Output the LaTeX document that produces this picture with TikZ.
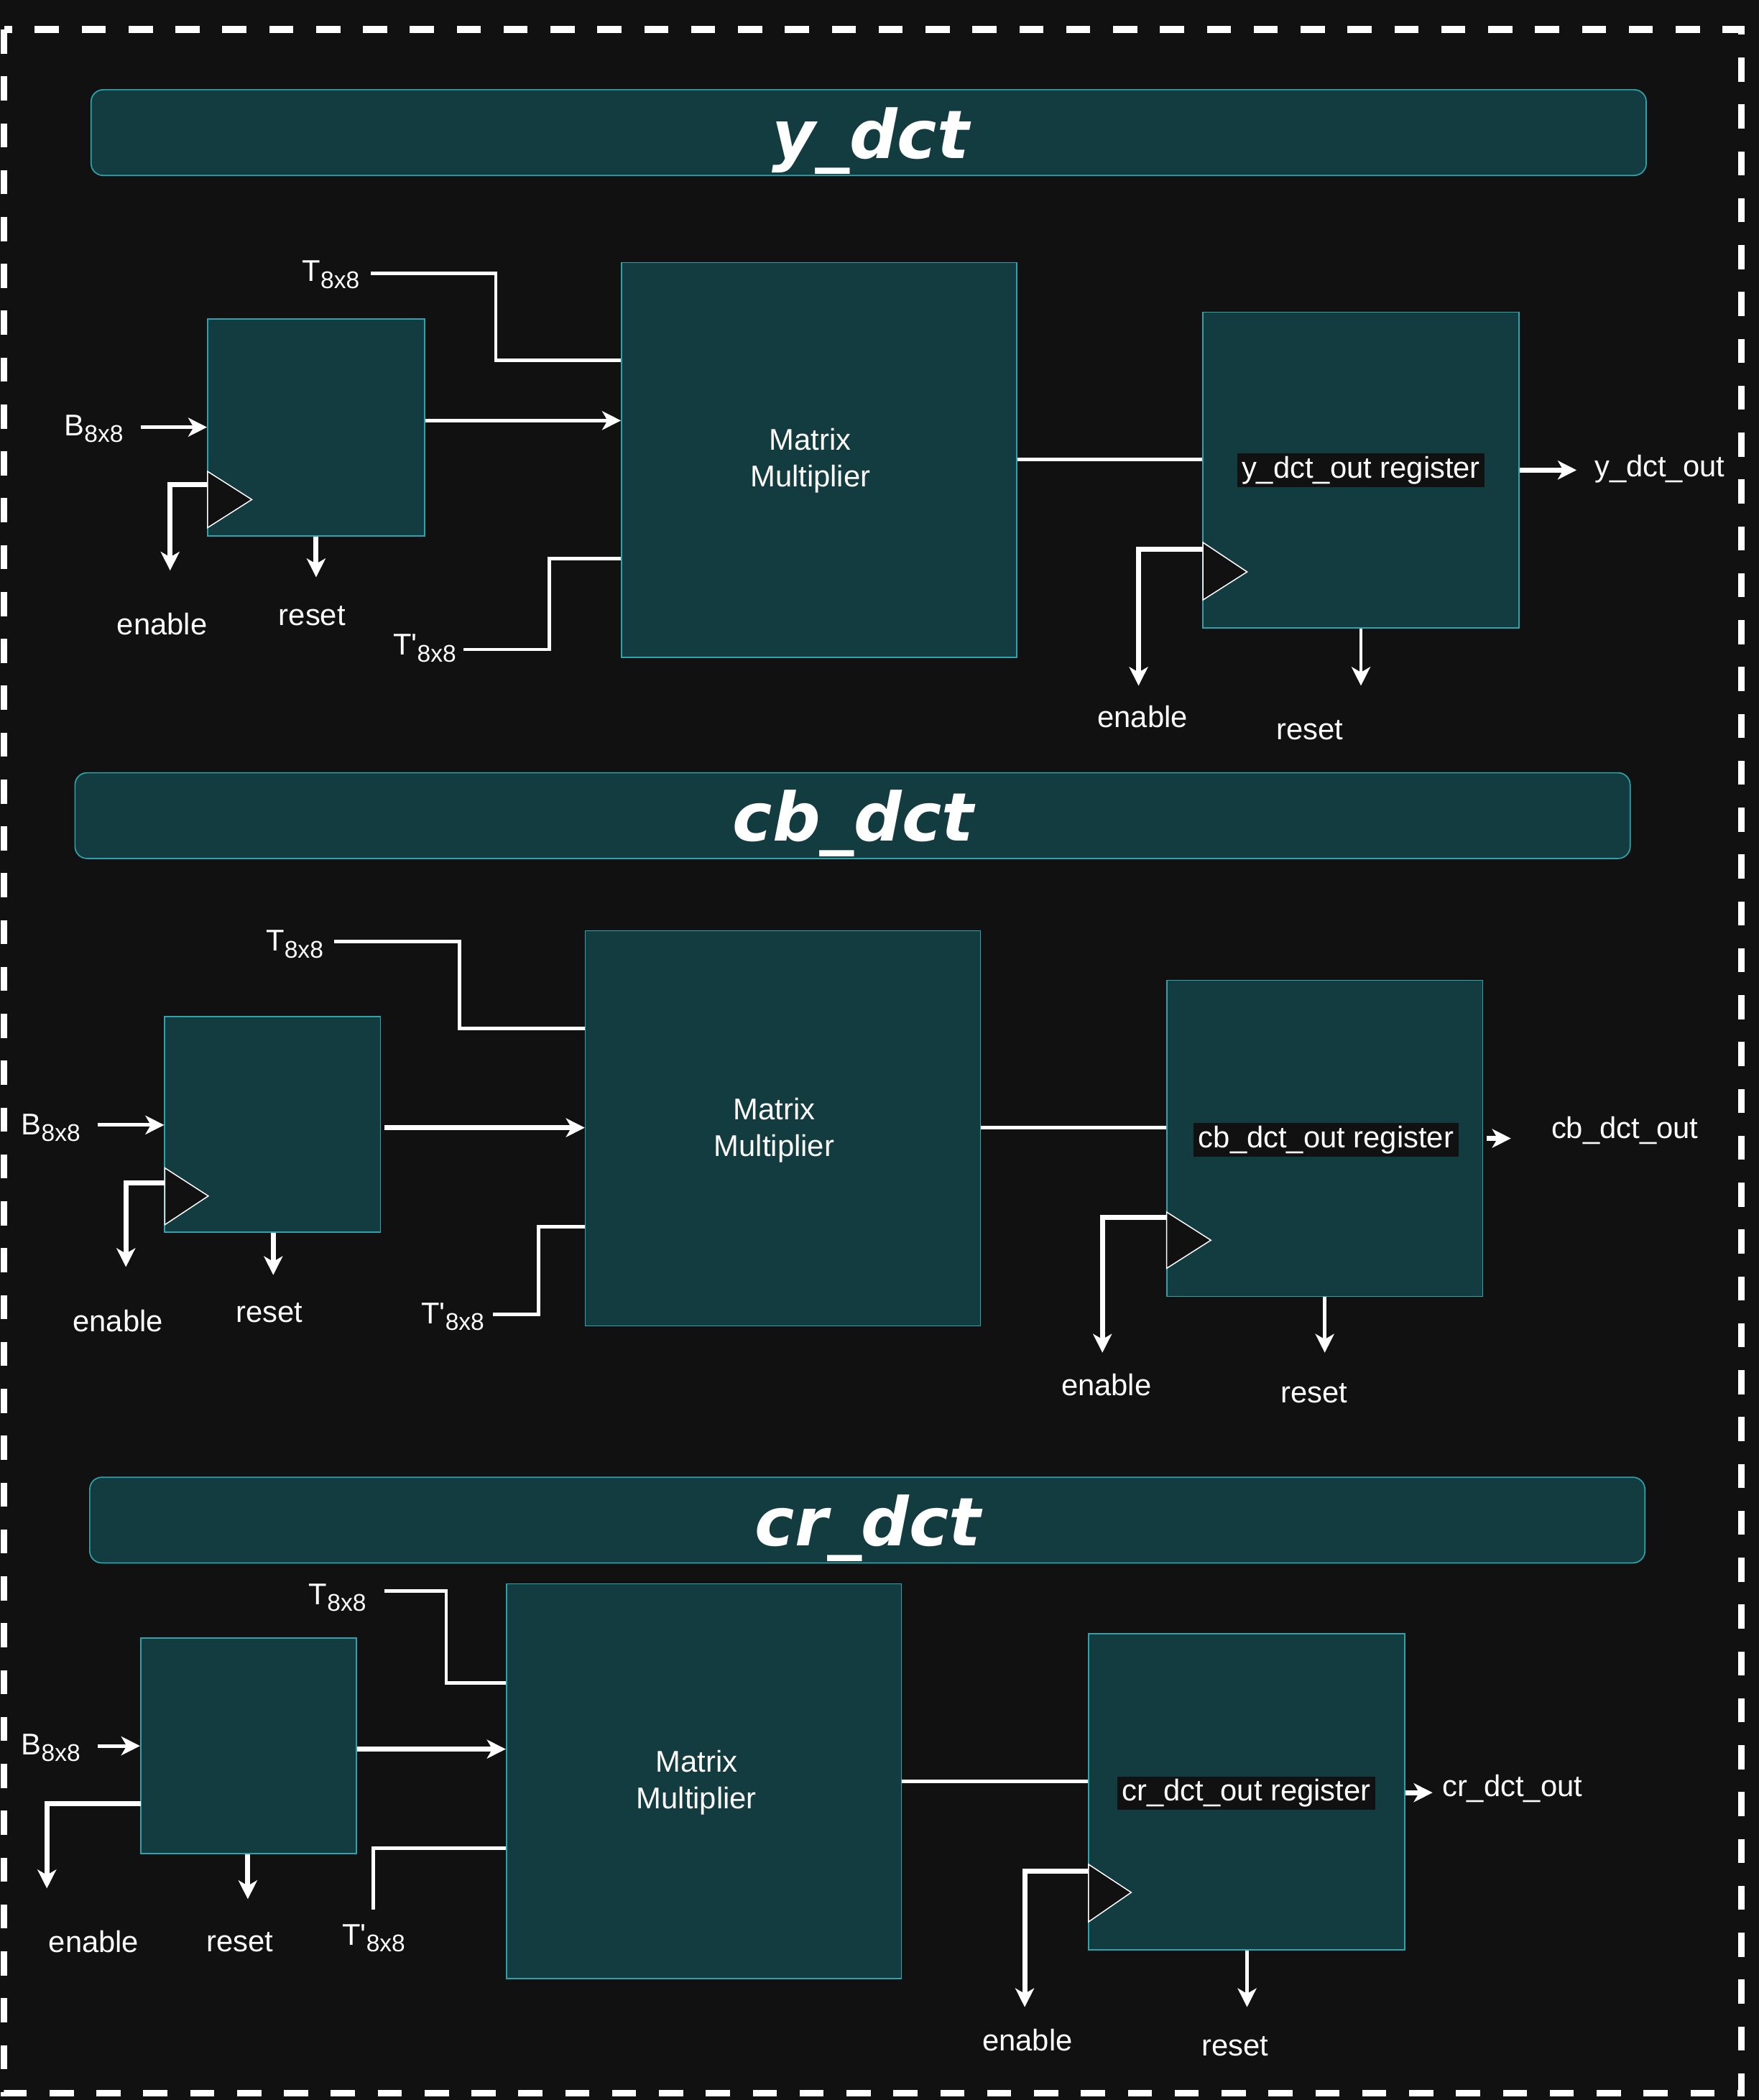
\documentclass[tikz,border=0pt]{standalone}
\usepackage{fontspec}
\setmainfont{Liberation Sans}
\newfontfamily\lf{Liberation Sans}
\newfontfamily\ttlfont{DejaVu Sans}
\usetikzlibrary{arrows.meta}
\definecolor{bgc}{HTML}{111111}
\definecolor{boxfill}{HTML}{133C41}
\definecolor{boxline}{HTML}{2FA3AB}
\newcommand\lbf{\lf\fontsize{22.4}{27}\selectfont}
\newcommand\subt[1]{\raisebox{-5pt}{\fontsize{18}{20}\selectfont #1}}
\begin{document}
\begin{tikzpicture}[x=1pt,y=-1pt,
  blk/.style={draw=boxline, line width=0.9pt, fill=boxfill, inner sep=0pt},
  tbar/.style={blk, rounded corners=9pt, minimum width=1161pt, minimum height=64pt},
  ttl/.style={text=white, inner sep=0pt, font=\ttlfont\bfseries\itshape\fontsize{50}{56}\selectfont},
  lbl/.style={text=white, font=\lbf, inner sep=0pt},
  tag/.style={fill=bgc, text=white, font=\lbf, inner xsep=3.5pt, inner ysep=2pt},
  wire/.style={draw=white, line width=2.7pt},
  thk/.style={line width=3.8pt},
  thn/.style={line width=2.4pt},
  arr/.style={wire, -{Stealth[length=14pt,width=14pt,inset=4pt]}},
  clk/.style={fill=bgc, draw=white, line width=0.8pt}]

\useasboundingbox (0,0) rectangle (1313,1568);
\fill[bgc] (0,0) rectangle (1313,1568);
\draw[white, line width=5pt, dash pattern=on 18pt off 17pt] (3,22) rectangle (1300,1563);

% ================= y_dct =================
\node[tbar] (tb1) at (648.5,99) {};
\node[ttl] (tt1) at (650,105) {y\_dct};
\node[blk, minimum width=162pt, minimum height=162pt] (R1) at (236,319) {};
\node[blk, minimum width=295pt, minimum height=295pt] (M1) at (611.5,343.5) {};
\node[lbl, align=center] (M1t) at (605,344) {Matrix\\Multiplier};
\node[blk, minimum width=236pt, minimum height=236pt] (O1) at (1016,351) {};
\node[tag] (tag1) at (1016,351) {y\_dct\_out register};
\filldraw[clk] (155,352) -- (188,373) -- (155,394) -- cycle;
\filldraw[clk] (898,405) -- (931,427) -- (898,448) -- cycle;

\node[lbl] (B1) at (70,320) {B\subt{8x8}};
\node[lbl] (T1) at (247,205) {T\subt{8x8}};
\node[lbl] (Tp1) at (317,484) {T'\subt{8x8}};
\node[lbl] (en1) at (121,466) {enable};
\node[lbl] (rs1) at (233,460) {reset};
\node[lbl] (en1b) at (853,535) {enable};
\node[lbl] (rs1b) at (978,545) {reset};
\node[lbl] (out1) at (1239,350) {y\_dct\_out};

\coordinate (b1s) at (105,319);
\coordinate (t1s) at (277,204);
\coordinate (tp1s) at (346,485);
\coordinate (e1s) at (155,362);
\coordinate (e1e) at (127,426);
\coordinate (r1e) at (236,431);
\coordinate (e1bs) at (898,410);
\coordinate (e1be) at (850,512);
\coordinate (r1be) at (1016,512);
\coordinate (o1e) at (1177,351);

\draw[arr] (b1s) -- (R1.west |- b1s);
\draw[arr, line width=3pt] (R1.east |- 0,314) -- (M1.west |- 0,314);
\draw[wire, thn] (t1s) -| (370,269) -- (M1.west |- 0,269);
\draw[wire, thn] (tp1s) -| (410,417) -- (M1.west |- 0,417);
\draw[arr, thk] (e1s) -| (e1e);
\draw[arr, thk] (R1.south) -- (r1e);
\draw[wire] (M1.east |- 0,343) -- (O1.west |- 0,343);
\draw[arr, thk] (e1bs) -| (e1be);
\draw[arr, thn] (O1.south) -- (r1be);
\draw[arr, thk] (O1.east |- o1e) -- (o1e);

% ================= cb_dct =================
\node[tbar] (tb2) at (636.5,609) {};
\node[ttl] (tt2) at (637,615) {cb\_dct};
\node[blk, minimum width=161pt, minimum height=161pt] (R2) at (203.5,839.5) {};
\node[blk, minimum width=295pt, minimum height=295pt] (M2) at (584.5,842.5) {};
\node[lbl, align=center] (M2t) at (578,844) {Matrix\\Multiplier};
\node[blk, minimum width=236pt, minimum height=236pt] (O2) at (989,850) {};
\node[tag] (tag2) at (990,851) {cb\_dct\_out register};
\filldraw[clk] (123,872) -- (155.5,893) -- (123,914.5) -- cycle;
\filldraw[clk] (871,905) -- (904,926) -- (871,947) -- cycle;

\node[lbl] (B2) at (38,842) {B\subt{8x8}};
\node[lbl] (T2) at (220,705) {T\subt{8x8}};
\node[lbl] (Tp2) at (338,983) {T'\subt{8x8}};
\node[lbl] (en2) at (88,986) {enable};
\node[lbl] (rs2) at (201,980) {reset};
\node[lbl] (en2b) at (826,1034) {enable};
\node[lbl] (rs2b) at (981,1040) {reset};
\node[lbl] (out2) at (1213,844) {cb\_dct\_out};

\coordinate (b2s) at (73,840);
\coordinate (o2s) at (287,842);
\coordinate (t2s) at (249.5,703);
\coordinate (tp2s) at (368,981.5);
\coordinate (e2s) at (123,883);
\coordinate (e2e) at (94,946);
\coordinate (r2e) at (204,952);
\coordinate (e2bs) at (871,909);
\coordinate (e2be) at (823,1010);
\coordinate (r2be) at (989,1010);
\coordinate (o2bs) at (1110,850);
\coordinate (o2be) at (1128,850);

\draw[arr] (b2s) -- (R2.west |- b2s);
\draw[arr, thk] (o2s) -- (M2.west |- o2s);
\draw[wire, thn] (t2s) -| (343,768) -- (M2.west |- 0,768);
\draw[wire, thn] (tp2s) -| (402,916) -- (M2.west |- 0,916);
\draw[arr, thk] (e2s) -| (e2e);
\draw[arr, thk] (R2.south -| r2e) -- (r2e);
\draw[wire] (M2.east |- 0,842) -- (O2.west |- 0,842);
\draw[arr, thk] (e2bs) -| (e2be);
\draw[arr, thn] (O2.south) -- (r2be);
\draw[arr, thk] (o2bs) -- (o2be);

% ================= cr_dct =================
\node[tbar] (tb3) at (647.5,1135) {};
\node[ttl] (tt3) at (648,1141) {cr\_dct};
\node[blk, minimum width=161pt, minimum height=161pt] (R3) at (185.5,1303.5) {};
\node[blk, minimum width=295pt, minimum height=295pt] (M3) at (525.5,1330) {};
\node[lbl, align=center] (M3t) at (520,1331) {Matrix\\Multiplier};
\node[blk, minimum width=236pt, minimum height=236pt] (O3) at (930.6,1338) {};
\node[tag] (tag3) at (930.5,1339) {cr\_dct\_out register};
\filldraw[clk] (812.6,1392) -- (844.5,1413) -- (812.6,1435) -- cycle;

\node[lbl] (B3) at (38,1305) {B\subt{8x8}};
\node[lbl] (T3) at (252,1193) {T\subt{8x8}};
\node[lbl] (Tp3) at (279,1447) {T'\subt{8x8}};
\node[lbl] (en3) at (70,1450) {enable};
\node[lbl] (rs3) at (179,1450) {reset};
\node[lbl] (en3b) at (767,1523) {enable};
\node[lbl] (rs3b) at (922,1528) {reset};
\node[lbl] (out3) at (1129,1335.5) {cr\_dct\_out};

\coordinate (b3s) at (72.7,1303.6);
\coordinate (t3s) at (287,1188);
\coordinate (tp3e) at (278.6,1426);
\coordinate (e3s) at (105,1346.6);
\coordinate (e3e) at (35,1410);
\coordinate (r3e) at (185,1418);
\coordinate (e3bs) at (812.6,1397);
\coordinate (e3be) at (765,1498.6);
\coordinate (r3be) at (931,1498.6);
\coordinate (o3be) at (1069.5,1338.5);

\draw[arr] (b3s) -- (R3.west |- b3s);
\draw[arr, thk] (R3.east |- 0,1306) -- (M3.west |- 0,1306);
\draw[wire, thn] (t3s) -| (333,1256.7) -- (M3.west |- 0,1256.7);
\draw[wire, thn] (M3.west |- 0,1380) -| (tp3e);
\draw[arr, thk] (e3s) -| (e3e);
\draw[arr, thk] (R3.south -| r3e) -- (r3e);
\draw[wire] (M3.east |- 0,1330) -- (O3.west |- 0,1330);
\draw[arr, thk] (e3bs) -| (e3be);
\draw[arr, thn] (O3.south -| r3be) -- (r3be);
\draw[arr, thk] (O3.east |- o3be) -- (o3be);

\end{tikzpicture}
\end{document}
